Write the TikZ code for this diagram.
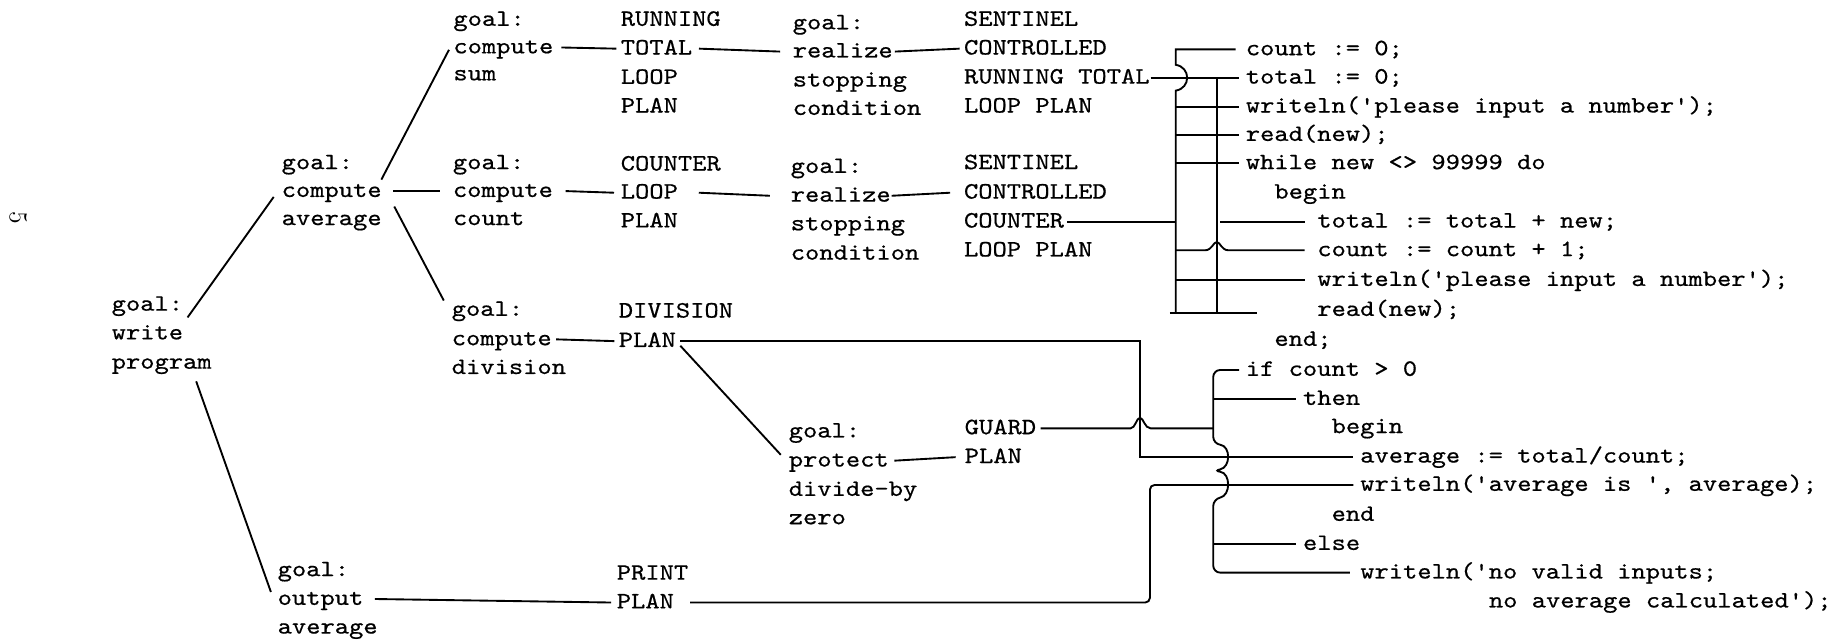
\documentclass[tikz,border=0pt]{standalone}
\usepackage{fontspec}
\setmonofont{lmmono10-regular.otf}[FakeStretch=1.16,FakeBold=0.6]
\usetikzlibrary{calc}
\begin{document}
\begin{tikzpicture}[x=0.5pt,y=-0.5pt,line width=0.8pt,
  t/.style={anchor=west,inner sep=0pt,text height=7pt,text depth=2pt,font=\fontsize{10}{12}\selectfont\ttfamily},
  pgnum/.style={rotate=-90,inner sep=0pt,font=\fontsize{11}{13}\selectfont\rmfamily}]
\useasboundingbox (0,0) rectangle (1568,547);
% page number
\node[pgnum] (pg) at (15.5,185.5) {5};
% write program
\node[t] (wp1) at (94.5,260) {goal:};
\node[t] (wp2) at (94.5,284.5) {write};
\node[t] (wp3) at (94.5,309.5) {program};
% compute average
\node[t] (ca1) at (239.5,139.3) {goal:};
\node[t] (ca2) at (239.5,163) {compute};
\node[t] (ca3) at (239.5,187) {average};
% compute sum
\node[t] (cs1) at (386,17) {goal:};
\node[t] (cs2) at (386,40.5) {compute};
\node[t] (cs3) at (386,63.5) {sum};
% running total loop plan
\node[t] (rt1) at (528.8,17) {RUNNING};
\node[t] (rt2) at (528.8,41.5) {TOTAL};
\node[t] (rt3) at (528.8,66.5) {LOOP};
\node[t] (rt4) at (528.8,91) {PLAN};
% realize 1
\node[t] (ra1) at (675.5,20) {goal:};
\node[t] (ra2) at (675.5,44) {realize};
\node[t] (ra3) at (675.5,68.8) {stopping};
\node[t] (ra4) at (675.5,93) {condition};
% sentinel 1
\node[t] (sa1) at (821.6,17) {SENTINEL};
\node[t] (sa2) at (821.6,41.5) {CONTROLLED};
\node[t] (sa3) at (821.6,66.3) {RUNNING TOTAL};
\node[t] (sa4) at (821.6,91) {LOOP PLAN};
% compute count
\node[t] (cc1) at (385.6,139.3) {goal:};
\node[t] (cc2) at (385.6,163) {compute};
\node[t] (cc3) at (385.6,187) {count};
% counter loop plan
\node[t] (cl1) at (528.8,140.5) {COUNTER};
\node[t] (cl2) at (528.8,164.4) {LOOP};
\node[t] (cl3) at (528.8,189) {PLAN};
% realize 2
\node[t] (rb1) at (673.8,142.5) {goal:};
\node[t] (rb2) at (673.8,167) {realize};
\node[t] (rb3) at (673.8,191.5) {stopping};
\node[t] (rb4) at (673.8,216.5) {condition};
% sentinel 2
\node[t] (sb1) at (821.6,139.3) {SENTINEL};
\node[t] (sb2) at (821.6,164.4) {CONTROLLED};
\node[t] (sb3) at (821.6,189.1) {COUNTER};
\node[t] (sb4) at (821.6,213.8) {LOOP PLAN};
% compute division
\node[t] (cd1) at (384.6,264.4) {goal:};
\node[t] (cd2) at (384.6,289.5) {compute};
\node[t] (cd3) at (384.6,314) {division};
% division plan
\node[t] (dp1) at (527.1,265.9) {DIVISION};
\node[t] (dp2) at (527.1,291) {PLAN};
% protect
\node[t] (pr1) at (672.1,368.2) {goal:};
\node[t] (pr2) at (672.1,393) {protect};
\node[t] (pr3) at (672.1,418) {divide-by};
\node[t] (pr4) at (672.1,442.2) {zero};
% guard plan
\node[t] (gp1) at (822.2,365.4) {GUARD};
\node[t] (gp2) at (822.2,390) {PLAN};
% output average
\node[t] (oa1) at (236.1,486.5) {goal:};
\node[t] (oa2) at (236.1,511) {output};
\node[t] (oa3) at (236.1,535.5) {average};
% print plan
\node[t] (pp1) at (525.4,489.5) {PRINT};
\node[t] (pp2) at (525.4,514) {PLAN};
% code
\node[t] (k1) at (1062,42.1) {count := 0;};
\node[t] (k2) at (1062,66.3) {total := 0;};
\node[t] (k3) at (1062,91) {writeln('please input a number');};
\node[t] (k4) at (1062,115.2) {read(new);};
\node[t] (k5) at (1062,139.3) {while new <> 99999 do};
\node[t] (k6) at (1086.4,164.4) {begin};
\node[t] (k7) at (1123,189.1) {total := total + new;};
\node[t] (k8) at (1123,213.5) {count := count + 1;};
\node[t] (k9) at (1123,238.9) {writeln('please input a number');};
\node[t] (k10) at (1123,264.5) {read(new);};
\node[t] (k11) at (1086.4,290) {end;};
\node[t] (k12) at (1062,315.6) {if count > 0};
\node[t] (k13) at (1110.8,340.4) {then};
\node[t] (k14) at (1135.2,364.5) {begin};
\node[t] (k15) at (1159.6,389.6) {average := total/count;};
\node[t] (k16) at (1159.6,413.7) {writeln('average is ', average);};
\node[t] (k17) at (1135.2,439.3) {end};
\node[t] (k18) at (1110.8,464.1) {else};
\node[t] (k19) at (1159.6,488.5) {writeln('no valid inputs;};
\node[t] (k20) at (1269.4,513.2) {no average calculated');};
% bus positions
\coordinate (v1) at (1003,0);
\coordinate (v2) at (1038,0);
\coordinate (v3) at (972.5,0);
\coordinate (v4) at (1035,0);
\coordinate (v5) at (981,0);
\coordinate (bb) at (0,267.3);
% tree connectors
\draw ($(wp1.south east)+(3,1)$) -- ($(ca2.west)+(-6,5)$);
\draw ($(wp3.south east)+(-14,6)$) -- ($(oa2.west)+(-5,-6)$);
\draw ($(ca2.north east)+(-1,0)$) -- ($(cs2.west)+(-3,2)$);
\draw ($(ca2.east)+(9,0)$) -- ($(cc2.west)+(-10,0)$);
\draw ($(ca3.north east)+(10,-1)$) -- ($(cd1.west)+(-6,-8)$);
\draw ($(cs2.east)+(6,0)$) -- ($(rt2.west)+(-3,0)$);
\draw ($(rt2.east)+(5,0)$) -- ($(ra2.west)+(-10,0)$);
\draw ($(ra2.east)+(1,0)$) -- ($(sa2.west)+(-3,0)$);
\draw ($(cc2.east)+(10,0)$) -- ($(cl2.west)+(-5,0)$);
\draw ($(cl2.east)+(17,0)$) -- ($(rb2.west)+(-17,0)$);
\draw ($(rb2.east)+(0,0)$) -- ($(sb2.west)+(-11,0)$);
\draw ($(cd2.east)+(3,0)$) -- ($(dp2.west)+(-3,0)$);
\draw ($(dp2.east)+(3,4)$) -- ($(pr2.west)+(-6,-5)$);
\draw ($(pr2.east)+(4,0)$) -- ($(gp2.west)+(-7,0)$);
\draw ($(oa2.east)+(9,0)$) -- ($(pp2.west)+(-4,0)$);
% first bracket
\draw ($(k1.west)+(-8,0)$) -- (v1 |- k1.west) -- ($(v1 |- sa3.east)+(0,-11)$)
  .. controls ($(v1 |- sa3.east)+(13,-9)$) and ($(v1 |- sa3.east)+(13,9)$) .. ($(v1 |- sa3.east)+(0,11)$)
  -- (v1 |- bb);
\draw ($(sa3.east)+(0,0)$) -- ($(k2.west)+(-5,0)$);
\draw (v2 |- k2.west) -- (v2 |- bb);
\draw ($(v1 |- bb)+(-5,0)$) -- ($(v2 |- bb)+(34,0)$);
\draw (v1 |- k3.west) -- ($(k3.west)+(-5,0)$);
\draw (v1 |- k4.west) -- ($(k4.west)+(-5,0)$);
\draw (v1 |- k5.west) -- ($(k5.west)+(-5,0)$);
\draw ($(sb3.east)+(2,0)$) -- (v1 |- sb3.east);
\draw ($(v2 |- k7.west)+(3,0)$) -- ($(k7.west)+(-10,0)$);
\draw (v1 |- k8.west) -- ($(v2 |- k8.west)+(-10,0)$)
  .. controls ($(v2 |- k8.west)+(-4,0)$) and ($(v2 |- k8.west)+(-3,-7)$) .. ($(v2 |- k8.west)+(0,-7)$)
  .. controls ($(v2 |- k8.west)+(3,-7)$) and ($(v2 |- k8.west)+(4,0)$) .. ($(v2 |- k8.west)+(10,0)$)
  -- ($(k8.west)+(-10,0)$);
\draw (v1 |- k9.west) -- ($(k9.west)+(-10,0)$);
% second bracket
\draw ($(dp2.east)+(3,0)$) -- (v3 |- dp2.east) -- (v3 |- k15.west) -- ($(k15.west)+(-5,0)$);
\draw ($(gp1.east)+(3,0)$) -- ($(v3 |- gp1.east)+(-8,0)$)
  .. controls ($(v3 |- gp1.east)+(-4,0)$) and ($(v3 |- gp1.east)+(-3,-9)$) .. ($(v3 |- gp1.east)+(0,-9)$)
  .. controls ($(v3 |- gp1.east)+(3,-9)$) and ($(v3 |- gp1.east)+(4,0)$) .. ($(v3 |- gp1.east)+(9,0)$)
  -- (v4 |- gp1.east);
\draw[rounded corners=3] ($(k12.west)+(-5,0)$) -- (v4 |- k12.west) -- ($(v4 |- k15.west)+(0,-11)$)
  .. controls ($(v4 |- k15.west)+(15,-9)$) and ($(v4 |- k15.west)+(15,9)$) .. ($(v4 |- k15.west)+(0,12)$)
  .. controls ($(v4 |- k16.west)+(15,-10)$) and ($(v4 |- k16.west)+(15,9)$) .. ($(v4 |- k16.west)+(0,12)$)
  -- (v4 |- k19.west) -- ($(k19.west)+(-8,0)$);
\draw (v4 |- k13.west) -- ($(k13.west)+(-5,0)$);
\draw (v4 |- k18.west) -- ($(k18.west)+(-5,0)$);
\draw[rounded corners=2] ($(pp2.east)+(13,0)$) -- (v5 |- pp2.east) -- (v5 |- k16.west) -- ($(k16.west)+(-5,0)$);
\end{tikzpicture}
\end{document}
